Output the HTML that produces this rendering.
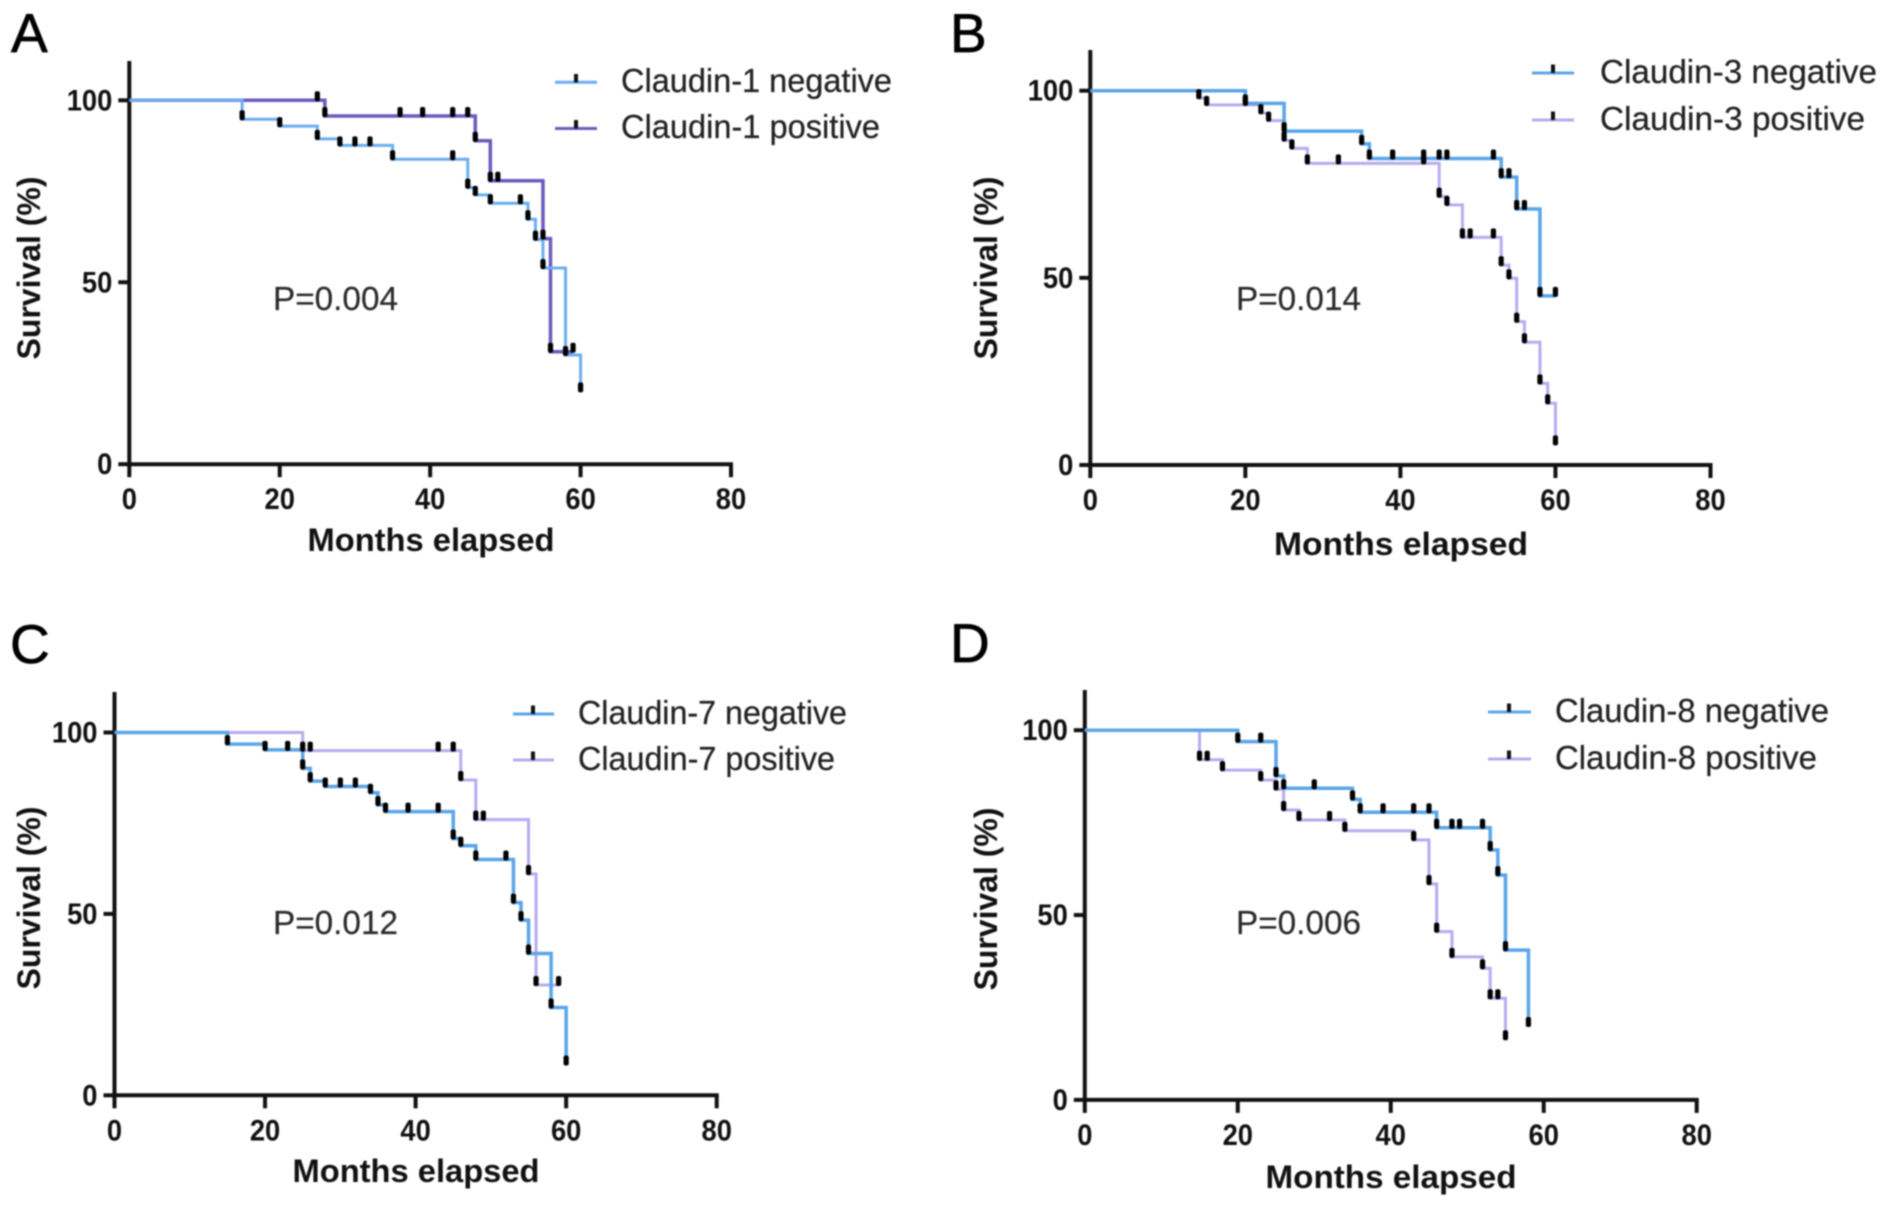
<!DOCTYPE html>
<html lang="en">
<head>
<meta charset="utf-8">
<title>Claudin survival curves</title>
<style>
html,body{margin:0;padding:0;background:#fff;width:1890px;height:1210px;overflow:hidden}
svg{display:block;filter:blur(0.7px)}
text{font-family:"Liberation Sans",Arial,sans-serif;fill:#111}
.letter{font-size:55px;fill:#000;stroke:#000;stroke-width:0.7px}
.axis-title{font-size:32px;font-weight:bold}
.tick-label{font-size:30px;font-weight:bold}
.legend-text{font-size:33px;fill:#222;stroke:#222;stroke-width:0.25px}
.p-value{font-size:33px;fill:#2a2a2a;stroke:#2a2a2a;stroke-width:0.2px}
</style>
</head>
<body>
<svg id="figure" xmlns="http://www.w3.org/2000/svg" width="1890" height="1210" viewBox="0 0 1890 1210">
  <rect x="0" y="0" width="1890" height="1210" fill="#fff"/>

  <g id="panel-a">
    <text class="letter" x="11" y="52">A</text>
    <text class="axis-title" transform="translate(40,268) rotate(-90)" text-anchor="middle" textLength="183" lengthAdjust="spacingAndGlyphs">Survival (%)</text>
    <text class="axis-title" x="431" y="551" text-anchor="middle" textLength="247" lengthAdjust="spacingAndGlyphs">Months elapsed</text>
    <text class="p-value" x="273" y="310" textLength="125" lengthAdjust="spacingAndGlyphs">P=0.004</text>
    <g>
      <line x1="555" x2="597" y1="82.3" y2="82.3" stroke="#6baef0" stroke-width="3"/>
      <rect x="574" y="74" width="4" height="8.5" fill="#111"/>
      <text class="legend-text" x="621" y="92" textLength="271" lengthAdjust="spacingAndGlyphs">Claudin-1 negative</text>
      <line x1="555" x2="597" y1="128.5" y2="128.5" stroke="#6b5bbd" stroke-width="3"/>
      <rect x="574" y="120" width="4" height="8.5" fill="#111"/>
      <text class="legend-text" x="621" y="138" textLength="259" lengthAdjust="spacingAndGlyphs">Claudin-1 positive</text>
    </g>
  </g>

  <g id="panel-b">
    <text class="letter" x="950" y="52">B</text>
    <text class="axis-title" transform="translate(997,268) rotate(-90)" text-anchor="middle" textLength="183" lengthAdjust="spacingAndGlyphs">Survival (%)</text>
    <text class="axis-title" x="1401" y="555" text-anchor="middle" textLength="254" lengthAdjust="spacingAndGlyphs">Months elapsed</text>
    <text class="p-value" x="1236" y="310" textLength="125" lengthAdjust="spacingAndGlyphs">P=0.014</text>
    <g>
      <line x1="1532" x2="1574" y1="73" y2="73" stroke="#5aa5e8" stroke-width="3"/>
      <rect x="1551" y="64.5" width="4" height="8.5" fill="#111"/>
      <text class="legend-text" x="1600" y="83" textLength="277" lengthAdjust="spacingAndGlyphs">Claudin-3 negative</text>
      <line x1="1532" x2="1574" y1="120" y2="120" stroke="#b9aaf0" stroke-width="3"/>
      <rect x="1551" y="111.5" width="4" height="8.5" fill="#111"/>
      <text class="legend-text" x="1600" y="130" textLength="265" lengthAdjust="spacingAndGlyphs">Claudin-3 positive</text>
    </g>
  </g>

  <g id="panel-c">
    <text class="letter" x="10" y="663">C</text>
    <text class="axis-title" transform="translate(40,898) rotate(-90)" text-anchor="middle" textLength="183" lengthAdjust="spacingAndGlyphs">Survival (%)</text>
    <text class="axis-title" x="416" y="1182" text-anchor="middle" textLength="247" lengthAdjust="spacingAndGlyphs">Months elapsed</text>
    <text class="p-value" x="273" y="934" textLength="125" lengthAdjust="spacingAndGlyphs">P=0.012</text>
    <g>
      <line x1="513" x2="554" y1="714" y2="714" stroke="#5aa5e8" stroke-width="3"/>
      <rect x="531" y="705.5" width="4" height="8.5" fill="#111"/>
      <text class="legend-text" x="578" y="724" textLength="269" lengthAdjust="spacingAndGlyphs">Claudin-7 negative</text>
      <line x1="513" x2="554" y1="760" y2="760" stroke="#b9aaf0" stroke-width="3"/>
      <rect x="531" y="751.5" width="4" height="8.5" fill="#111"/>
      <text class="legend-text" x="578" y="770" textLength="257" lengthAdjust="spacingAndGlyphs">Claudin-7 positive</text>
    </g>
  </g>

  <g id="panel-d">
    <text class="letter" x="950" y="662">D</text>
    <text class="axis-title" transform="translate(997,899) rotate(-90)" text-anchor="middle" textLength="183" lengthAdjust="spacingAndGlyphs">Survival (%)</text>
    <text class="axis-title" x="1391" y="1188" text-anchor="middle" textLength="251" lengthAdjust="spacingAndGlyphs">Months elapsed</text>
    <text class="p-value" x="1236" y="934" textLength="125" lengthAdjust="spacingAndGlyphs">P=0.006</text>
    <g>
      <line x1="1488" x2="1531" y1="712" y2="712" stroke="#5aa5e8" stroke-width="3"/>
      <rect x="1507" y="703.5" width="4" height="8.5" fill="#111"/>
      <text class="legend-text" x="1555" y="722" textLength="274" lengthAdjust="spacingAndGlyphs">Claudin-8 negative</text>
      <line x1="1488" x2="1531" y1="759" y2="759" stroke="#b9aaf0" stroke-width="3"/>
      <rect x="1507" y="750.5" width="4" height="8.5" fill="#111"/>
      <text class="legend-text" x="1555" y="769" textLength="262" lengthAdjust="spacingAndGlyphs">Claudin-8 positive</text>
    </g>
  </g>
</svg>

<script>
// Shared axis tick values
var xTickValues = [0, 20, 40, 60, 80];
var yTickValues = [0, 50, 100];

// Panel A: Claudin-1
var aNegDropMonths = [15, 20, 25, 28, 35, 45, 46, 48, 53, 54, 55, 58, 60];
var aNegSurvival = [94.8, 92.9, 89.4, 87.6, 83.8, 76, 74, 71.7, 67.3, 61.7, 53.9, 30, 20];
var aNegCensored = [15, 20, 25, 28, 30, 32, 35, 43, 45, 46, 48, 52, 53, 54, 55, 58, 60];
var aPosDropMonths = [26, 46, 48, 55, 56];
var aPosSurvival = [95.7, 88.9, 77.9, 62, 30.9];
var aPosCensored = [25, 26, 36, 39, 43, 45, 46, 48, 49, 55, 56, 59];

// Panel B: Claudin-3
var bNegDropMonths = [20, 25, 35, 36, 53, 55, 58];
var bNegSurvival = [96.6, 89.2, 85.8, 81.9, 76.9, 68.4, 45.2];
var bNegCensored = [20, 25, 35, 36, 39, 43, 45, 46, 52, 53, 54, 55, 56, 58, 60];
var bPosDropMonths = [14, 15, 22, 23, 25, 26, 28, 45, 46, 48, 53, 54, 55, 56, 58, 59, 60];
var bPosSurvival = [98, 96.2, 94, 92, 86.7, 84.6, 80.6, 71.7, 69.5, 60.8, 53.4, 49.9, 38.3, 32.8, 21.8, 16.5, 5.5];
var bPosCensored = [14, 15, 20, 22, 23, 25, 26, 28, 32, 43, 45, 46, 48, 49, 52, 53, 54, 55, 56, 58, 59, 60];

// Panel C: Claudin-7
var cNegDropMonths = [15, 20, 25, 26, 28, 34, 35, 36, 45, 46, 48, 53, 54, 55, 58, 60];
var cNegSurvival = [96.8, 95.2, 90.1, 86.6, 85.1, 83.4, 80, 78.2, 70.8, 68.8, 65, 53.1, 48.3, 39.1, 24.2, 8.5];
var cNegCensored = [15, 20, 23, 25, 26, 28, 30, 32, 34, 35, 36, 39, 43, 45, 46, 48, 52, 53, 54, 55, 58, 60];
var cPosDropMonths = [25, 46, 48, 55, 56];
var cPosSurvival = [95, 86.9, 76, 61, 30.4];
var cPosCensored = [25, 26, 43, 45, 46, 48, 49, 55, 56, 59];

// Panel D: Claudin-8
var dNegDropMonths = [20, 25, 26, 35, 36, 46, 53, 54, 55, 58];
var dNegSurvival = [96.9, 87.6, 84.3, 81.3, 77.8, 73.6, 67.6, 60.8, 40.5, 20];
var dNegCensored = [20, 23, 25, 26, 30, 35, 36, 39, 43, 45, 46, 48, 49, 52, 53, 54, 55, 58];
var dPosDropMonths = [15, 18, 23, 25, 26, 28, 34, 43, 45, 46, 48, 52, 53, 55];
var dPosSurvival = [92, 89.2, 86.5, 84, 78.4, 75.7, 72.8, 70.3, 58.4, 45.5, 38.7, 35.6, 27.5, 16.4];
var dPosCensored = [15, 16, 18, 23, 25, 26, 28, 32, 34, 43, 45, 46, 48, 52, 53, 54, 55];

var SVG_NS = 'http://www.w3.org/2000/svg';

function survivalAt(t, months, values) {
  var s = 100;
  for (var i = 0; i < months.length; i++) {
    if (months[i] <= t) { s = values[i]; }
  }
  return s;
}

function drawSeries(parent, key, kind, sx, sy, months, values, censored, color, width) {
  var end = Math.max(months[months.length - 1], censored[censored.length - 1]);
  var d = 'M' + sx(0) + ' ' + sy(100);
  for (var i = 0; i < months.length; i++) {
    d += ' H' + sx(months[i]) + ' V' + sy(values[i]);
  }
  d += ' H' + sx(end);
  var path = document.createElementNS(SVG_NS, 'path');
  
  
  path.setAttribute('d', d);
  path.setAttribute('fill', 'none');
  path.setAttribute('stroke', color);
  path.setAttribute('stroke-width', width);
  parent.appendChild(path);
}

function drawCensorMarks(parent, key, kind, sx, sy, months, values, censored) {
  for (var i = 0; i < censored.length; i++) {
    var t = censored[i];
    var mark = document.createElementNS(SVG_NS, 'rect');
    
    
    mark.setAttribute('x', sx(t) - 2.6);
    mark.setAttribute('y', sy(survivalAt(t, months, values)) - 9);
    mark.setAttribute('width', 5.2);
    mark.setAttribute('height', 10);
    mark.setAttribute('rx', 2);
    mark.setAttribute('fill', '#000');
    parent.appendChild(mark);
  }
}

function drawAxes(parent, key, g, sx, sy) {
  var yAxis = document.createElementNS(SVG_NS, 'line');
  
  
  yAxis.setAttribute('x1', sx(0));
  yAxis.setAttribute('x2', sx(0));
  yAxis.setAttribute('y1', g.top);
  yAxis.setAttribute('y2', sy(0) + 2);
  yAxis.setAttribute('stroke', '#111');
  yAxis.setAttribute('stroke-width', 4);
  parent.appendChild(yAxis);

  var xAxis = document.createElementNS(SVG_NS, 'line');
  
  
  xAxis.setAttribute('x1', sx(0) - 2);
  xAxis.setAttribute('x2', sx(80) + 2);
  xAxis.setAttribute('y1', sy(0));
  xAxis.setAttribute('y2', sy(0));
  xAxis.setAttribute('stroke', '#111');
  xAxis.setAttribute('stroke-width', 4);
  parent.appendChild(xAxis);

  xTickValues.forEach(function (v) {
    var tick = document.createElementNS(SVG_NS, 'line');
    
    
    tick.setAttribute('x1', sx(v));
    tick.setAttribute('x2', sx(v));
    tick.setAttribute('y1', sy(0));
    tick.setAttribute('y2', sy(0) + 13);
    tick.setAttribute('stroke', '#111');
    tick.setAttribute('stroke-width', 4);
    parent.appendChild(tick);

    var label = document.createElementNS(SVG_NS, 'text');
    
    
    label.setAttribute('class', 'tick-label');
    label.setAttribute('x', sx(v));
    label.setAttribute('y', sy(0) + 45);
    label.setAttribute('text-anchor', 'middle');
    label.setAttribute('textLength', String(v).length * 15.2);
    label.setAttribute('lengthAdjust', 'spacingAndGlyphs');
    label.textContent = String(v);
    parent.appendChild(label);
  });

  yTickValues.forEach(function (v) {
    var tick = document.createElementNS(SVG_NS, 'line');
    
    
    tick.setAttribute('x1', sx(0) - 11);
    tick.setAttribute('x2', sx(0));
    tick.setAttribute('y1', sy(v));
    tick.setAttribute('y2', sy(v));
    tick.setAttribute('stroke', '#111');
    tick.setAttribute('stroke-width', 4);
    parent.appendChild(tick);

    var label = document.createElementNS(SVG_NS, 'text');
    
    
    label.setAttribute('class', 'tick-label');
    label.setAttribute('x', sx(0) - 17);
    label.setAttribute('y', sy(v) + 10);
    label.setAttribute('text-anchor', 'end');
    label.setAttribute('textLength', String(v).length * 15.2);
    label.setAttribute('lengthAdjust', 'spacingAndGlyphs');
    label.textContent = String(v);
    parent.appendChild(label);
  });
}

function drawPanel(key, g, neg, pos) {
  var parent = document.getElementById('panel-' + key);
  var sx = function (m) { return g.x0 + (g.x80 - g.x0) * m / 80; };
  var sy = function (s) { return g.y0 + (g.y100 - g.y0) * s / 100; };
  drawAxes(parent, key, g, sx, sy);
  drawSeries(parent, key, 'positive', sx, sy, pos.months, pos.values, pos.censored, pos.color, pos.width);
  drawSeries(parent, key, 'negative', sx, sy, neg.months, neg.values, neg.censored, neg.color, neg.width);
  drawCensorMarks(parent, key, 'positive', sx, sy, pos.months, pos.values, pos.censored);
  drawCensorMarks(parent, key, 'negative', sx, sy, neg.months, neg.values, neg.censored);
}

drawPanel('a', {x0: 129.3, x80: 731, y0: 464.2, y100: 100.3, top: 61},
  {months: aNegDropMonths, values: aNegSurvival, censored: aNegCensored, color: '#6baef0', width: 3},
  {months: aPosDropMonths, values: aPosSurvival, censored: aPosCensored, color: '#6b5bbd', width: 3.5});
drawPanel('b', {x0: 1090.3, x80: 1710.5, y0: 465, y100: 90.7, top: 50},
  {months: bNegDropMonths, values: bNegSurvival, censored: bNegCensored, color: '#5aa5e8', width: 3.5},
  {months: bPosDropMonths, values: bPosSurvival, censored: bPosCensored, color: '#b9aaf0', width: 3});
drawPanel('c', {x0: 114.5, x80: 716.7, y0: 1095.3, y100: 732.5, top: 692},
  {months: cNegDropMonths, values: cNegSurvival, censored: cNegCensored, color: '#5aa5e8', width: 3.5},
  {months: cPosDropMonths, values: cPosSurvival, censored: cPosCensored, color: '#b9aaf0', width: 3});
drawPanel('d', {x0: 1084.8, x80: 1696.7, y0: 1099.9, y100: 730.2, top: 690},
  {months: dNegDropMonths, values: dNegSurvival, censored: dNegCensored, color: '#5aa5e8', width: 3.5},
  {months: dPosDropMonths, values: dPosSurvival, censored: dPosCensored, color: '#b9aaf0', width: 3});
</script>
</body>
</html>
